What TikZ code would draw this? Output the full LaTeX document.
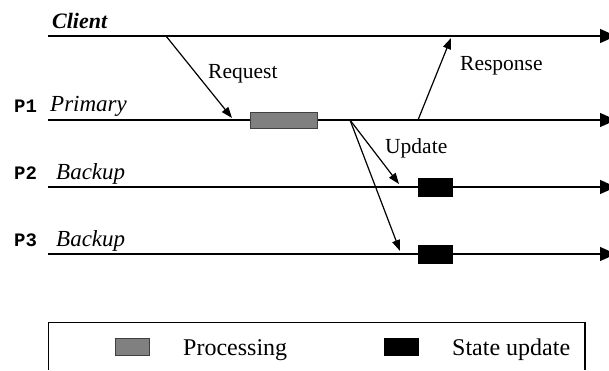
\documentclass[tikz,border=0pt]{standalone}
\usepackage{fontspec}
\setmainfont{Liberation Serif}
\setmonofont{Liberation Mono}
\usetikzlibrary{arrows.meta}
\tikzset{
  timeline/.style={line width=1.2pt, -{Triangle[length=16pt,width=14pt]}},
  msg/.style={line width=1.2pt, -{Triangle[length=11pt,width=8pt]}},
  lbl/.style={inner sep=0pt, anchor=base west},
  msglbl/.style={lbl, font=\fontsize{21.5}{24}\selectfont},
  proclbl/.style={lbl, font=\fontsize{19}{22}\selectfont\ttfamily\bfseries},
  rolelbl/.style={lbl, font=\fontsize{23}{26}\selectfont\itshape},
  legendlbl/.style={lbl, font=\fontsize{24}{27}\selectfont},
  procbox/.style={draw=black!75, line width=0.8pt, fill=black!50, inner sep=0pt},
  updbox/.style={draw=black, fill=black, inner sep=0pt, minimum width=34pt, minimum height=18pt},
}
\begin{document}
\begin{tikzpicture}[x=1pt, y=-1pt]
\useasboundingbox (0,0) rectangle (609,370);

% process timelines (heads run past the right edge)
\coordinate (c0) at (48,36);   \coordinate (c1) at (616,36);
\coordinate (p10) at (48,120); \coordinate (p11) at (616,120);
\coordinate (p20) at (48,187); \coordinate (p21) at (616,187);
\coordinate (p30) at (48,254); \coordinate (p31) at (616,254);
\draw[timeline] (c0) -- (c1);
\draw[timeline] (p10) -- (p11);
\draw[timeline] (p20) -- (p21);
\draw[timeline] (p30) -- (p31);

% process names
\node[lbl, font=\fontsize{22}{25}\selectfont\bfseries\itshape] (client) at (52,28) {Client};
\node[proclbl] (n1) at (14,112) {P1};
\node[rolelbl] (r1) at (50,111) {Primary};
\node[proclbl] (n2) at (14,179) {P2};
\node[rolelbl] (r2) at (56,179) {Backup};
\node[proclbl] (n3) at (14,246) {P3};
\node[rolelbl] (r3) at (56,246) {Backup};

% processing and state updates
\node[procbox, minimum width=67pt, minimum height=16pt] (proc) at (283.5,120) {};
\node[updbox] (u2) at (435,187) {};
\node[updbox] (u3) at (435,254.5) {};

% messages
\coordinate (rqs) at (166,36);  \coordinate (rqe) at (232,118);
\coordinate (rss) at (418,120); \coordinate (rse) at (451,38);
\coordinate (ups) at (350,120);
\coordinate (up2) at (399,184); \coordinate (up3) at (400,251);
\draw[msg] (rqs) -- (rqe);
\draw[msg] (rss) -- (rse);
\draw[msg] (ups) -- (up2);
\draw[msg] (ups) -- (up3);
\node[msglbl] (req) at (208,78) {Request};
\node[msglbl] (resp) at (460,70) {Response};
\node[msglbl] (upd) at (385,153) {Update};

% legend
\coordinate (lg0) at (48,370); \coordinate (lg1) at (48,322);
\coordinate (lg2) at (585,322); \coordinate (lg3) at (585,370);
\draw[line width=1pt] (lg0) -- (lg1) -- (lg2);
\draw[line width=2pt] (lg2) -- (lg3);
\node[procbox, minimum width=34pt, minimum height=17pt] (lgproc) at (132,346.5) {};
\node[legendlbl] (lgproct) at (183,355) {Processing};
\node[updbox, minimum height=17pt] (lgupd) at (401,346.5) {};
\node[legendlbl] (lgupdt) at (452,355) {State update};
\end{tikzpicture}
\end{document}
